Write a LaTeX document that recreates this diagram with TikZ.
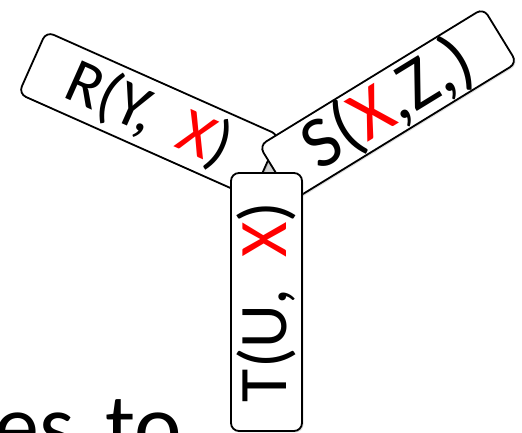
\documentclass[tikz,border=0pt]{standalone}
\usepackage{fontspec}
\setmainfont{Carlito}
\usepackage{xcolor}
\usepackage{tikz}
\usetikzlibrary{shadows}

\tikzset{
  atom/.style={draw, line width=1.8pt, rounded corners=8pt, fill=white,
    inner sep=0pt, font=\fontsize{64}{64}\selectfont,
    drop shadow={shadow xshift=1.5pt, shadow yshift=-1.5pt, opacity=0.25}},
}

\begin{document}
\begin{tikzpicture}[x=1pt,y=1pt]
  \useasboundingbox (0,0) rectangle (522,433);
  \clip (0,0) rectangle (522,433);
  \node[anchor=base west, inner sep=0pt, font=\fontsize{90}{90}\selectfont] (estext) at (-6,-24) {es\hspace{31pt}to};
  % hub behind the three atoms
  \filldraw[fill=gray!35, line width=1.5pt, line join=round] (261,258) -- (280,258) -- (270,280) -- cycle;
  \node[atom, rotate=-24, minimum width=255pt, minimum height=68pt] (rbox) at (148.9,318.5)
    {R(Y,~~\textcolor{red}{X})};
  \node[atom, rotate=31.5, minimum width=263pt, minimum height=64pt,
    font=\fontsize{73}{73}\selectfont] (sbox) at (388.1,328.7)
    {S(\textcolor{red}{X},Z,)};
  \node[atom, rotate=90, minimum width=258pt, minimum height=71pt,
    font=\fontsize{68}{68}\selectfont] (tbox) at (266.5,131)
    {T(U,~~\textcolor{red}{X})};
\end{tikzpicture}
\end{document}
